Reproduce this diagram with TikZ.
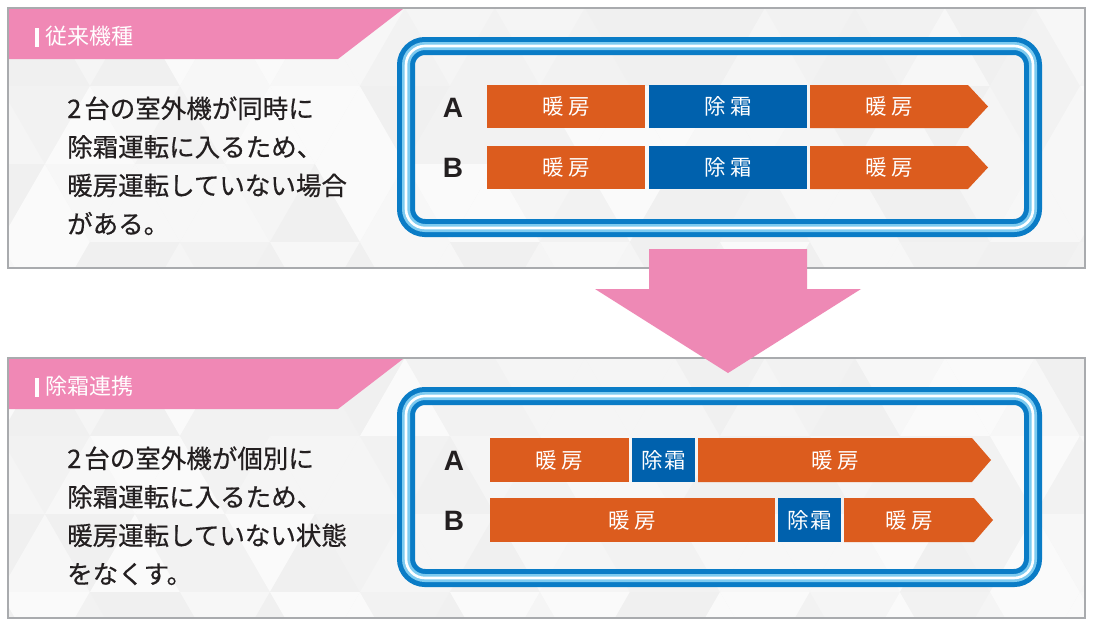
\documentclass[tikz,border=0pt]{standalone}
\usepackage{fontspec}
\setmainfont{Liberation Sans}
\newfontfamily\jp{Noto Sans CJK JP}
\newfontfamily\jpb[FakeBold=0.5]{Noto Sans CJK JP}
\definecolor{orng}{HTML}{DC5C1E}
\definecolor{dblue}{HTML}{0061AD}
\definecolor{fblue}{HTML}{0A7CC6}
\definecolor{lblue}{HTML}{7ECBF0}
\definecolor{pinkh}{HTML}{F088B5}
\definecolor{pinka}{HTML}{EE89B5}
\definecolor{bgray}{HTML}{A9ABAE}
\definecolor{txt}{HTML}{231F20}
\definecolor{panelbg}{HTML}{F3F4F4}
\newcommand\rseg[7]{%
  \fill[#6] (#2,#4) rectangle (#3,#5);
  \node[segtext] (#1) at ({(#2+#3)/2},{(#4+#5)/2}) {#7};}
\newcommand\aseg[8]{%
  \fill[#6] (#2,#4) -- (#3,#4) -- (#8,{(#4+#5)/2}) -- (#3,#5) -- (#2,#5) -- cycle;
  \node[segtext] (#1) at ({(#2+#3)/2},{(#4+#5)/2}) {#7};}
\newcommand\panelbg[3]{% #1 offset, #2 name, #3 title
  \begin{scope}
    \clip (8,{8+#1}) rectangle (1085,{268+#1});
    \fill[panelbg] (8,{8+#1}) rectangle (1085,{268+#1});
    \foreach \r in {0,...,3} {
      \foreach \c in {-1,...,12} {
        \pgfmathsetmacro\xo{\c*90+mod(\r,2)*45}
        \pgfmathsetmacro\yt{8+#1+\r*78}
        \pgfmathtruncatemacro\ga{94+int(4.9*rnd)}
        \fill[white!\ga!black] (\xo,\yt+78) -- (\xo+90,\yt+78) -- (\xo+45,\yt) -- cycle;
        \pgfmathtruncatemacro\gb{94+int(4.9*rnd)}
        \fill[white!\gb!black] (\xo+45,\yt) -- (\xo+135,\yt) -- (\xo+90,\yt+78) -- cycle;
      }
    }
  \end{scope}
  \draw[bgray, line width=1.8pt] (8,{8+#1}) rectangle (1085,{268+#1});
  \fill[pinkh] (9,{9+#1}) -- (403,{9+#1}) -- (338,{59+#1}) -- (9,{59+#1}) -- cycle;
  \node[titletext, anchor=west] (#2title) at (35,{36.5+#1}) {\rule[-0.12em]{3.5pt}{0.85em}\hspace{7pt}#3};
  \draw[fblue, line width=18pt, rounded corners=19pt] (406,{46+#1}) rectangle (1033,{228+#1});
  \draw[lblue, line width=8pt, rounded corners=19pt] (406,{46+#1}) rectangle (1033,{228+#1});
  \draw[white, line width=2.6pt, rounded corners=19pt] (406,{46+#1}) rectangle (1033,{228+#1});
}
\begin{document}
\begin{tikzpicture}[x=1pt,y=-1pt,
  segtext/.style={inner sep=0pt, text=white, font=\jp\fontsize{21.5}{24}\selectfont},
  titletext/.style={inner sep=0pt, text=white, font=\jp\fontsize{22}{26}\selectfont},
  body/.style={inner sep=0pt, text=txt, font=\jpb\fontsize{25.5}{30}\selectfont},
  lab/.style={inner sep=0pt, text=txt, font=\bfseries\fontsize{28}{32}\selectfont}]
\useasboundingbox (0,0) rectangle (1097,619);
\fill[white] (0,0) rectangle (1097,619);
\pgfmathsetseed{7}
% ---- top panel
\panelbg{0}{top}{従来機種}
\node[body, anchor=base west] (t1) at (67,118) {2\hspace{3pt}台の室外機が同時に};
\node[body, anchor=base west] (t2) at (67,156.5) {除霜運転に入るため、};
\node[body, anchor=base west] (t3) at (67,195) {暖房運転していない場合};
\node[body, anchor=base west] (t4) at (67,233.5) {がある。};
\node[lab, anchor=base] (tA) at (453,117) {A};
\node[lab, anchor=base] (tB) at (453,177) {B};
\rseg{ta1}{487}{645}{85}{128}{orng}{暖\hspace{5pt}房}
\rseg{ta2}{649}{807}{85}{128}{dblue}{除\hspace{5pt}霜}
\aseg{ta3}{810}{968}{85}{128}{orng}{暖\hspace{5pt}房}{988}
\rseg{tb1}{487}{645}{146}{189}{orng}{暖\hspace{5pt}房}
\rseg{tb2}{649}{807}{146}{189}{dblue}{除\hspace{5pt}霜}
\aseg{tb3}{810}{968}{146}{189}{orng}{暖\hspace{5pt}房}{988}
% ---- bottom panel
\panelbg{350}{bot}{除霜連携}
\node[body, anchor=base west] (b1) at (67,468) {2\hspace{3pt}台の室外機が個別に};
\node[body, anchor=base west] (b2) at (67,506.5) {除霜運転に入るため、};
\node[body, anchor=base west] (b3) at (67,545) {暖房運転していない状態};
\node[body, anchor=base west] (b4) at (67,583.5) {をなくす。};
\node[lab, anchor=base] (bA) at (454,470) {A};
\node[lab, anchor=base] (bB) at (454,530) {B};
\rseg{ba1}{490}{629}{438}{482}{orng}{暖\hspace{5pt}房}
\rseg{ba2}{632}{695}{438}{482}{dblue}{除\hspace{2pt}霜}
\aseg{ba3}{698}{972}{438}{482}{orng}{暖\hspace{5pt}房}{991}
\rseg{bb1}{490}{775}{498}{542}{orng}{暖\hspace{5pt}房}
\rseg{bb2}{778}{841}{498}{542}{dblue}{除\hspace{2pt}霜}
\aseg{bb3}{844}{974}{498}{542}{orng}{暖\hspace{5pt}房}{993}
% ---- big arrow
\fill[pinka] (649,249) -- (807,249) -- (807,289) -- (861,289) -- (728,373) -- (595,289) -- (649,289) -- cycle;
\end{tikzpicture}
\end{document}
